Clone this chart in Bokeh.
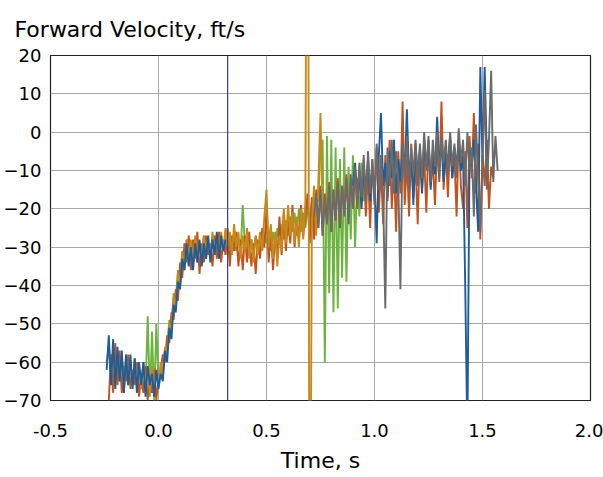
import numpy as np
from bokeh.plotting import figure
from bokeh.models import Span, Range1d, FixedTicker, NumeralTickFormatter
from bokeh.embed import file_html
from bokeh.resources import INLINE

# ---------------- data ----------------
dt = 0.01  # sample spacing, s

green_t0 = -0.20
green_v = [
    -62, -58, -65, -59, -64, -60, -66, -61, -65, -60,
    -66, -62, -67, -60, -68, -48, -69, -52, -70, -50,
    -66, -63, -62, -57, -56, -49, -50, -42, -44, -36,
    -39, -31, -34, -28, -33, -29, -32, -28, -34, -29,
    -31, -27, -33, -29, -32, -28, -31, -27, -33, -28,
    -31, -27, -32, -28, -30, -26, -31, -28, -32, -19,
    -30, -27, -32, -28, -31, -27, -30, -28, -31, -26,
    -29, -27, -31, -26, -30, -25, -29, -24, -28, -23,
    -27, -22, -26, -21, -27, -20, -26, -21, -25, -20,
    -22, -18, -24, -17, -18, -4, -2, -60, -1, -42,
    -2, -47, -4, -46, -7, -38, -4, -39, -9, -28,
    -6, -30, -12, -22, -8, -18, -14,
]

orange_t0 = -0.23
orange_v = [
    -70, -58, -68, -55, -66, -57, -68, -61, -65, -58,
    -67, -62, -66, -60, -69, -63, -68, -61, -70, -64,
    -68, -62, -70, -64, -62, -58, -60, -53, -55, -47,
    -49, -41, -44, -34, -38, -29, -34, -27, -36, -28,
    -33, -26, -37, -29, -34, -27, -32, -29, -35, -27,
    -33, -26, -34, -28, -32, -25, -35, -27, -31, -26,
    -35, -28, -36, -27, -34, -26, -35, -29, -37, -28,
    -33, -25, -30, -20, -34, -25, -36, -27, -33, -22,
    -32, -21, -31, -22, -29, -19, -30, -23, -28, -19,
    -27, -22, -16, -29, -17, -28, -15, -25, -14, -27,
    -16, -24, -13, -26, -15, -23, -12, -25, -14, -21,
    -11, -22, -13, -19, -9, -20, -11, -18, -8, -22,
    -10, -25, -7, -18, -4, -21, -9, -24, -6, -17,
    -2, -20, -8, -26, -5, -16, 8, -19, -7, -22,
    -3, -17, -8, -24, -4, -15, -6, -21, -2, -14,
    -7, -19, -3, -13, 8, -15, -4, -17, -2, -12,
    -6, -22, 0, -14, -20, -5, -25, -1, -12, 5,
    -16, -3, -28, -6, -14, -2, -20, -9, -12,
]

gold_t0 = -0.24
gold_v = [
    -60, -56, -64, -58, -66, -57, -63, -59, -67, -58,
    -64, -60, -66, -59, -65, -61, -67, -60, -66, -62,
    -68, -61, -67, -62, -66, -60, -64, -56, -58, -50,
    -52, -43, -46, -37, -40, -31, -36, -28, -33, -28,
    -34, -27, -32, -29, -34, -27, -31, -28, -33, -26,
    -31, -27, -32, -26, -31, -25, -30, -26, -32, -24,
    -30, -26, -33, -27, -31, -25, -33, -28, -34, -27,
    -32, -26, -31, -22, -15, -30, -24, -33, -26, -35,
    -27, -31, -20, -29, -19, -27, -21, -29, -22, -30,
    -20, -28, -18, 150, -150, -24, -14, -27, -13, 5,
    -22,
]

blue_early_t0 = -0.24
blue_early_v = [
    -62, -53, -66, -54, -67, -56, -65, -57, -68, -58,
    -66, -58, -67, -59, -68, -60, -66, -60, -69, -61,
    -66, -63, -69, -62, -67, -63, -65, -57, -60, -51,
    -54, -45, -47, -39, -41, -33, -36, -29, -35, -30,
    -36, -29, -34, -28, -35, -29, -33, -27, -34, -28,
    -32, -26, -33, -27, -31, -28,
]

blue_late_t0 = 0.90
blue_late_v = [
    -14, -8, -17, -10, -20, -9, -15, -7, -18, -10,
    -13, -29, -6, 5, -14, -8, -18, -5, -12, -2,
    -16, -7, -13, -4, -10, 6, -12, -6, -19, -3,
    -11, -5, -16, -2, -9, -4, -15, -6, -11, 4,
    -9, -3, -13, -5, -8, -1, -12, -4, -9, -2,
    -10, -6, -40, -80, -5, -9, -2, -14, -26, 17,
    -8, 17, -6,
]

gray_t0 = 0.72
gray_v = [
    -22, -16, -25, -15, -27, -17, -24, -14, -26, -15,
    -23, -13, -25, -14, -22, -12, -24, -11, -20, -9,
    -19, -8, -17, -6, -18, -5, -16, -7, -19, -3,
    -15, -6, -17, -46, -4, -14, -2, -16, -5, -13,
    -41, -3, -12, -1, -15, -4, -11, -2, -14, -3,
    -12, 0, -10, -1, -13, -2, -9, 0, -12, -1,
    -8, -2, -11, 0, -9, -3, -12, 1, -8, -2,
    -14, 0, -10, -4, -22, 2, -12, -26, -6, 11,
    -15, -2, 16, -13, -1, -10,
]

event_time = 0.32  # thin navy marker line

x_min, x_max = -0.5, 2.0
y_min, y_max = -70, 20
x_ticks = [-0.5, 0.0, 0.5, 1.0, 1.5, 2.0]
y_ticks = [-70, -60, -50, -40, -30, -20, -10, 0, 10, 20]

title_text = "Forward Velocity, ft/s"
x_label = "Time, s"

# ---------------- figure ----------------
FONT = "DejaVu Sans"

p = figure(width=603, height=477, output_backend="svg", toolbar_location=None,
           x_range=Range1d(x_min, x_max), y_range=Range1d(y_min, y_max),
           min_border_left=49, min_border_right=13,
           min_border_top=55, min_border_bottom=77)

p.background_fill_color = "white"
p.border_fill_color = "white"
p.outline_line_color = "#222222"
p.outline_line_width = 1.2
p.outline_line_alpha = 1

p.title.text = title_text
p.title.align = "left"
p.title.offset = -36
p.title.standoff = 27
p.title.text_font = FONT
p.title.text_font_size = "22px"
p.title.text_font_style = "normal"
p.title.text_color = "black"

p.xaxis.ticker = FixedTicker(ticks=x_ticks)
p.yaxis.ticker = FixedTicker(ticks=y_ticks)
p.xaxis.formatter = NumeralTickFormatter(format="0.0")

for ax in (p.xaxis, p.yaxis):
    ax.axis_line_color = None
    ax.major_tick_line_color = None
    ax.minor_tick_line_color = None
    ax.major_tick_out = 0
    ax.major_tick_in = 0
    ax.major_label_text_font = FONT
    ax.major_label_text_font_size = "18px"
    ax.major_label_text_color = "black"

p.xaxis.major_label_standoff = 23
p.yaxis.major_label_standoff = 9
p.xaxis.axis_label = x_label
p.xaxis.axis_label_text_font = FONT
p.xaxis.axis_label_text_font_size = "22px"
p.xaxis.axis_label_text_font_style = "normal"
p.xaxis.axis_label_text_color = "black"
p.xaxis.axis_label_standoff = 8

p.xgrid.grid_line_color = "#a9a9a9"
p.ygrid.grid_line_color = "#a9a9a9"
p.xgrid.grid_line_width = 1
p.ygrid.grid_line_width = 1


def times(t0, v):
    return np.round(t0 + dt * np.arange(len(v)), 4)


LW = 1.9
p.line(times(green_t0, green_v), green_v, line_color="#6db33f", line_width=LW)
p.line(times(orange_t0, orange_v), orange_v, line_color="#c4521c", line_width=LW)
p.line(times(gold_t0, gold_v), gold_v, line_color="#c68a1c", line_width=LW)
p.line(times(blue_early_t0, blue_early_v), blue_early_v, line_color="#1f5c9c", line_width=LW)
p.line(times(blue_late_t0, blue_late_v), blue_late_v, line_color="#1f5c9c", line_width=LW)
p.line(times(gray_t0, gray_v), gray_v, line_color="#6b6b6b", line_width=LW)

p.add_layout(Span(location=event_time, dimension="height",
                  line_color="#3a3f8f", line_width=1.2))

open("out.html", "w").write(file_html(p, INLINE))
